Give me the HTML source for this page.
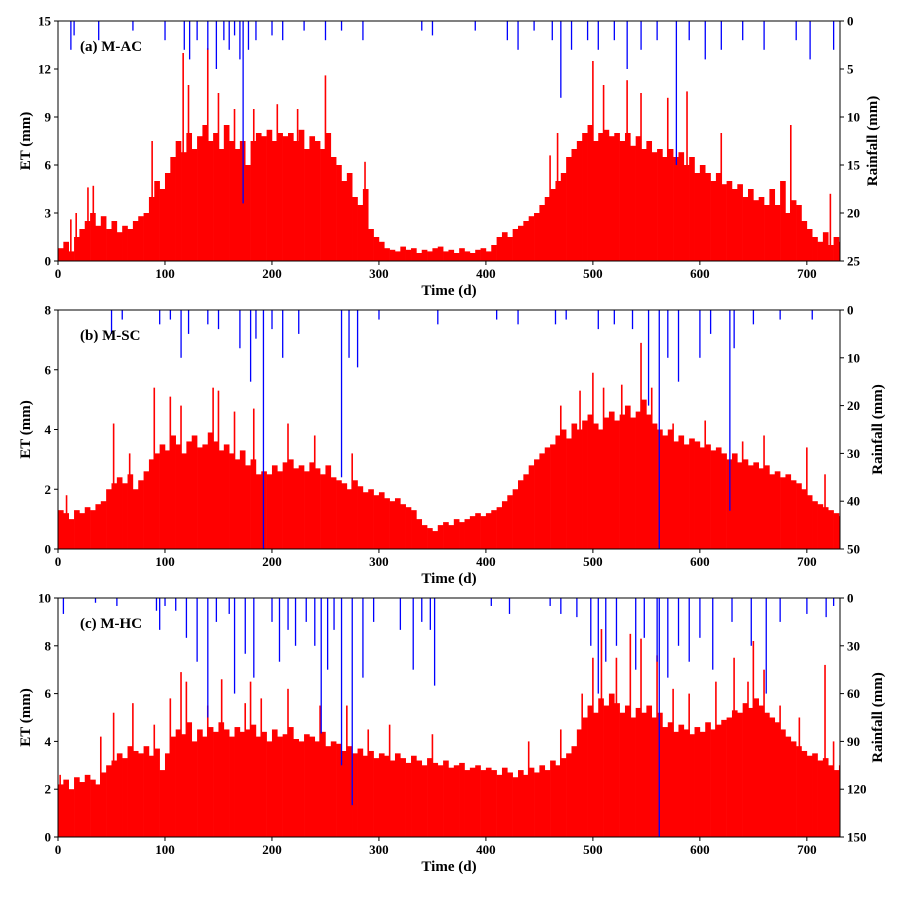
<!DOCTYPE html>
<html><head><meta charset="utf-8">
<style>
html,body{margin:0;padding:0;background:#fff;}
svg text{font-family:"Liberation Serif",serif;font-weight:bold;}
</style></head>
<body>
<svg id="chart" width="904" height="895" xmlns="http://www.w3.org/2000/svg"></svg>
<script>
const xTicks=[0,100,200,300,400,500,600,700];
const etA=[0.8,1.2,0.6,1.5,2.0,2.5,3.0,2.2,2.8,2.0,2.5,1.8,2.2,2.0,2.5,2.8,3.0,4.0,5.0,4.5,5.5,6.5,7.5,6.8,8.0,7.0,7.8,8.5,7.5,8.0,7.0,8.5,7.5,7.0,7.5,6.0,7.5,8.0,7.8,8.2,7.5,8.0,7.8,8.0,7.5,8.2,7.0,7.8,7.5,7.0,8.0,6.5,6.0,5.0,5.5,4.0,3.5,4.5,2.0,1.5,1.2,0.8,0.7,0.6,0.9,0.7,0.8,0.5,0.7,0.6,0.8,0.9,0.6,0.7,0.5,0.8,0.6,0.5,0.7,0.8,0.6,1.0,1.5,1.8,1.5,2.0,2.2,2.5,2.8,3.0,3.5,4.0,4.5,5.0,5.5,6.5,7.0,7.5,8.0,8.5,7.5,8.0,8.2,7.8,8.0,7.5,8.0,7.2,7.8,7.0,7.5,6.8,7.0,6.5,7.0,6.5,6.8,6.0,6.5,5.5,6.0,5.5,5.0,5.5,4.8,5.0,4.5,4.8,4.0,4.5,3.8,4.0,3.5,4.5,3.5,5.0,3.0,3.8,3.5,2.5,2.0,1.5,1.2,1.8,1.0,1.5,1.2];
const peakDaysA=[88,117,122,140,150,165,183,205,224,250,287,460,467,500,510,532,545,570,588,620,685,722,33,28,17,12];
const peakValsA=[7.5,13,11,13.3,10.5,9.5,9.5,9.8,9.5,11.6,6.2,6.6,8,12.5,11,11.3,10.5,10.2,10.6,8,8.5,4.2,4.7,4.6,3,2.6];
const rainDaysA=[12,15,38,70,100,118,123,130,140,148,155,160,165,170,173,178,185,200,210,230,250,265,285,340,350,390,420,430,445,462,470,480,495,505,520,532,545,560,578,590,605,620,640,660,690,703,725];
const rainA=[3,1.5,2,1,2,3,4,2,3,5,2,3,1.5,4,19,3,2,1.5,2,1,2,1,2,1,1.5,1,2,3,1,2,8,3,2,3,2,5,3,2,15,2,4,3,2,3,2,4,3];

const etB=[1.3,1.2,1.0,1.3,1.2,1.4,1.3,1.5,1.6,2.0,2.2,2.4,2.2,2.5,2.0,2.3,2.6,3.0,3.2,3.5,3.3,3.8,3.5,3.2,3.6,3.8,3.4,3.5,3.9,3.6,3.3,3.5,3.2,3.0,3.3,2.8,3.0,2.5,2.6,2.5,2.8,2.6,2.9,3.0,2.7,2.8,2.6,2.9,2.7,2.5,2.8,2.4,2.3,2.2,2.0,2.3,2.1,1.9,2.0,1.8,1.9,1.7,1.6,1.7,1.5,1.4,1.3,1.0,0.8,0.7,0.6,0.8,0.9,0.8,1.0,0.9,1.0,1.1,1.2,1.1,1.2,1.3,1.4,1.6,1.8,2.0,2.3,2.5,2.8,3.0,3.2,3.4,3.5,3.8,4.0,3.7,4.2,4.0,4.3,4.5,4.2,4.0,4.4,4.6,4.3,4.5,4.8,4.4,4.6,5.0,4.5,4.2,4.0,3.8,4.0,3.6,3.8,3.5,3.7,3.6,3.4,3.5,3.3,3.4,3.2,3.0,3.2,2.9,3.0,2.8,2.9,2.7,2.8,2.5,2.6,2.4,2.5,2.3,2.2,2.0,1.8,1.6,1.5,1.4,1.3,1.2,1.1];
const peakDaysB=[8,52,67,90,105,115,145,150,165,183,215,240,275,440,470,488,500,510,527,545,555,575,605,640,660,700,717];
const peakValsB=[1.8,4.2,3.2,5.4,5.1,4.8,5.4,5.3,4.6,4.7,4.2,3.8,3.2,2.0,4.8,5.3,5.9,5.4,5.5,6.9,5.4,4.2,4.3,3.6,3.8,3.4,2.5];
const rainDaysB=[50,60,95,105,115,122,140,150,170,180,185,192,200,210,225,265,272,280,300,355,410,430,465,475,505,520,537,552,562,570,580,600,610,628,632,650,675,705];
const rainB=[5,2,3,2,10,5,3,4,8,15,6,50,4,10,5,35,10,12,2,3,2,3,3,2,4,3,4,20,50,10,15,10,5,42,8,3,2,2];

const etC=[2.2,2.4,2.0,2.5,2.3,2.6,2.4,2.2,2.7,3.0,3.2,3.5,3.3,3.8,3.6,3.5,3.8,3.4,3.7,2.8,3.5,4.2,4.5,4.3,4.8,4.0,4.5,4.2,4.6,4.4,4.8,4.5,4.2,4.6,4.4,4.5,4.7,4.2,4.4,4.0,4.5,4.2,4.3,4.6,4.1,4.0,4.3,4.2,4.0,4.4,3.8,4.0,3.9,3.6,3.8,3.5,3.7,3.4,3.6,3.3,3.5,3.4,3.2,3.5,3.3,3.1,3.4,3.2,3.0,3.3,3.1,3.0,3.2,2.9,3.0,3.1,2.8,2.9,3.0,2.8,2.9,2.8,2.6,2.9,2.7,2.5,2.8,2.6,2.9,2.7,3.0,2.8,3.2,3.0,3.3,3.5,3.8,4.5,5.0,5.5,5.2,5.8,5.5,6.0,5.6,5.2,5.5,5.0,5.4,5.2,5.5,5.0,5.2,4.6,4.8,4.4,4.7,4.5,4.3,4.6,4.4,4.8,4.5,4.7,4.9,5.0,5.3,5.2,5.6,5.4,5.8,5.5,5.2,5.0,4.8,4.5,4.2,4.0,3.8,3.6,3.4,3.5,3.2,3.3,3.0,2.8,3.0];
const peakDaysC=[2,40,52,70,90,105,115,120,140,153,175,180,190,215,245,270,290,310,350,440,470,490,500,508,522,535,545,560,575,590,615,632,645,650,660,675,693,717,725];
const peakValsC=[2.6,4.2,5.2,5.6,4.7,5.8,6.9,6.5,5.5,6.6,5.6,6.5,5.8,6.2,5.5,5.5,4.5,4.7,4.3,4.0,4.5,6.0,7.5,8.7,7.5,8.5,8.3,7.6,6.2,6.0,6.5,7.5,6.5,8.2,7.0,5.5,5.0,7.2,4.0];
const rainDaysC=[5,35,55,92,95,100,110,120,130,140,148,160,165,175,183,200,207,215,222,232,240,246,252,258,265,275,285,295,320,332,340,348,352,405,422,460,470,485,498,505,512,522,540,548,560,562,570,580,590,600,612,630,648,662,675,700,718,725];
const rainC=[10,3,5,8,20,5,8,25,40,75,15,10,60,35,50,15,40,20,30,15,30,85,45,20,105,130,50,15,20,45,15,20,55,5,10,5,10,12,30,60,40,30,45,25,40,150,50,30,40,25,45,15,30,60,15,10,12,5];

const ticksA=[0,3,6,9,12,15], rTicksA=[0,5,10,15,20,25];
const ticksB=[0,2,4,6,8], rTicksB=[0,10,20,30,40,50];
const ticksC=[0,2,4,6,8,10], rTicksC=[0,30,60,90,120,150];

const NS="http://www.w3.org/2000/svg";
const svg=document.getElementById('chart');
const X0=58,X1=840,XMAX=731;
function xs(d){return X0+(d/XMAX)*(X1-X0);}
function mk(tag,attrs,parent){const e=document.createElementNS(NS,tag);for(const k in attrs)e.setAttribute(k,attrs[k]);(parent||svg).appendChild(e);return e;}

function panel(key,top,bot,et,pd,pv,rd,rv,lt,rt,title){
  const g=mk('g',{});
  
  
  const ymax=lt[lt.length-1], rmax=rt[rt.length-1];
  const ys=v=>bot-(v/ymax)*(bot-top);
  const rs=v=>top+(v/rmax)*(bot-top);
  const eg=mk('g',{fill:'#ff0000'},g);
  
  
  et.forEach((v,i)=>{const d=i*5;const x=xs(d),w=xs(Math.min(d+5,XMAX))-x;
    const r=mk('rect',{x:x,y:ys(v),width:w+0.3,height:bot-ys(v)},eg);
    
    });
  pd.forEach((d,i)=>{const v=pv[i];
    const r=mk('rect',{x:xs(d)-0.8,y:ys(v),width:1.6,height:bot-ys(v)},eg);
    
    });
  const rg=mk('g',{fill:'#0000ff'},g);
  
  
  rd.forEach((d,i)=>{const v=rv[i];
    const r=mk('rect',{x:xs(d)-0.6,y:top,width:1.3,height:rs(v)-top},rg);
    
    });
  const fr=mk('rect',{x:X0,y:top,width:X1-X0,height:bot-top,fill:'none',stroke:'#000','stroke-width':1},g);
  
  
  xTicks.forEach(t=>{const x=xs(t);
    mk('line',{x1:x,x2:x,y1:bot,y2:bot+4,stroke:'#000'},g);
    const tx=mk('text',{x:x,y:bot+17,'text-anchor':'middle','font-size':13},g);tx.textContent=t;
    
    });
  lt.forEach(t=>{const y=ys(t);
    mk('line',{x1:X0-4,x2:X0,y1:y,y2:y,stroke:'#000'},g);
    const tx=mk('text',{x:X0-7,y:y+4.5,'text-anchor':'end','font-size':13},g);tx.textContent=t;
    
    });
  rt.forEach(t=>{const y=rs(t);
    mk('line',{x1:X1,x2:X1+4,y1:y,y2:y,stroke:'#000'},g);
    const tx=mk('text',{x:X1+7,y:y+4.5,'text-anchor':'start','font-size':13},g);tx.textContent=t;
    
    });
  const xt=mk('text',{x:(X0+X1)/2,y:bot+34,'text-anchor':'middle','font-size':15},g);xt.textContent='Time (d)';
  
  
  const cy=(top+bot)/2;
  const yt=mk('text',{x:30,y:cy,'text-anchor':'middle','font-size':15,transform:`rotate(-90 30 ${cy})`},g);yt.textContent='ET (mm)';
  
  
  const rx=key==='a'?877:882;
  const rtt=mk('text',{x:rx,y:cy,'text-anchor':'middle','font-size':15,transform:`rotate(-90 ${rx} ${cy})`},g);rtt.textContent='Rainfall (mm)';
  
  
  const pt=mk('text',{x:80,y:top+30,'font-size':15},g);pt.textContent=title;
  
  
}
panel('a',21,261,etA,peakDaysA,peakValsA,rainDaysA,rainA,ticksA,rTicksA,'(a) M-AC');
panel('b',310,549,etB,peakDaysB,peakValsB,rainDaysB,rainB,ticksB,rTicksB,'(b) M-SC');
panel('c',598,837,etC,peakDaysC,peakValsC,rainDaysC,rainC,ticksC,rTicksC,'(c) M-HC');
</script>
</body></html>
